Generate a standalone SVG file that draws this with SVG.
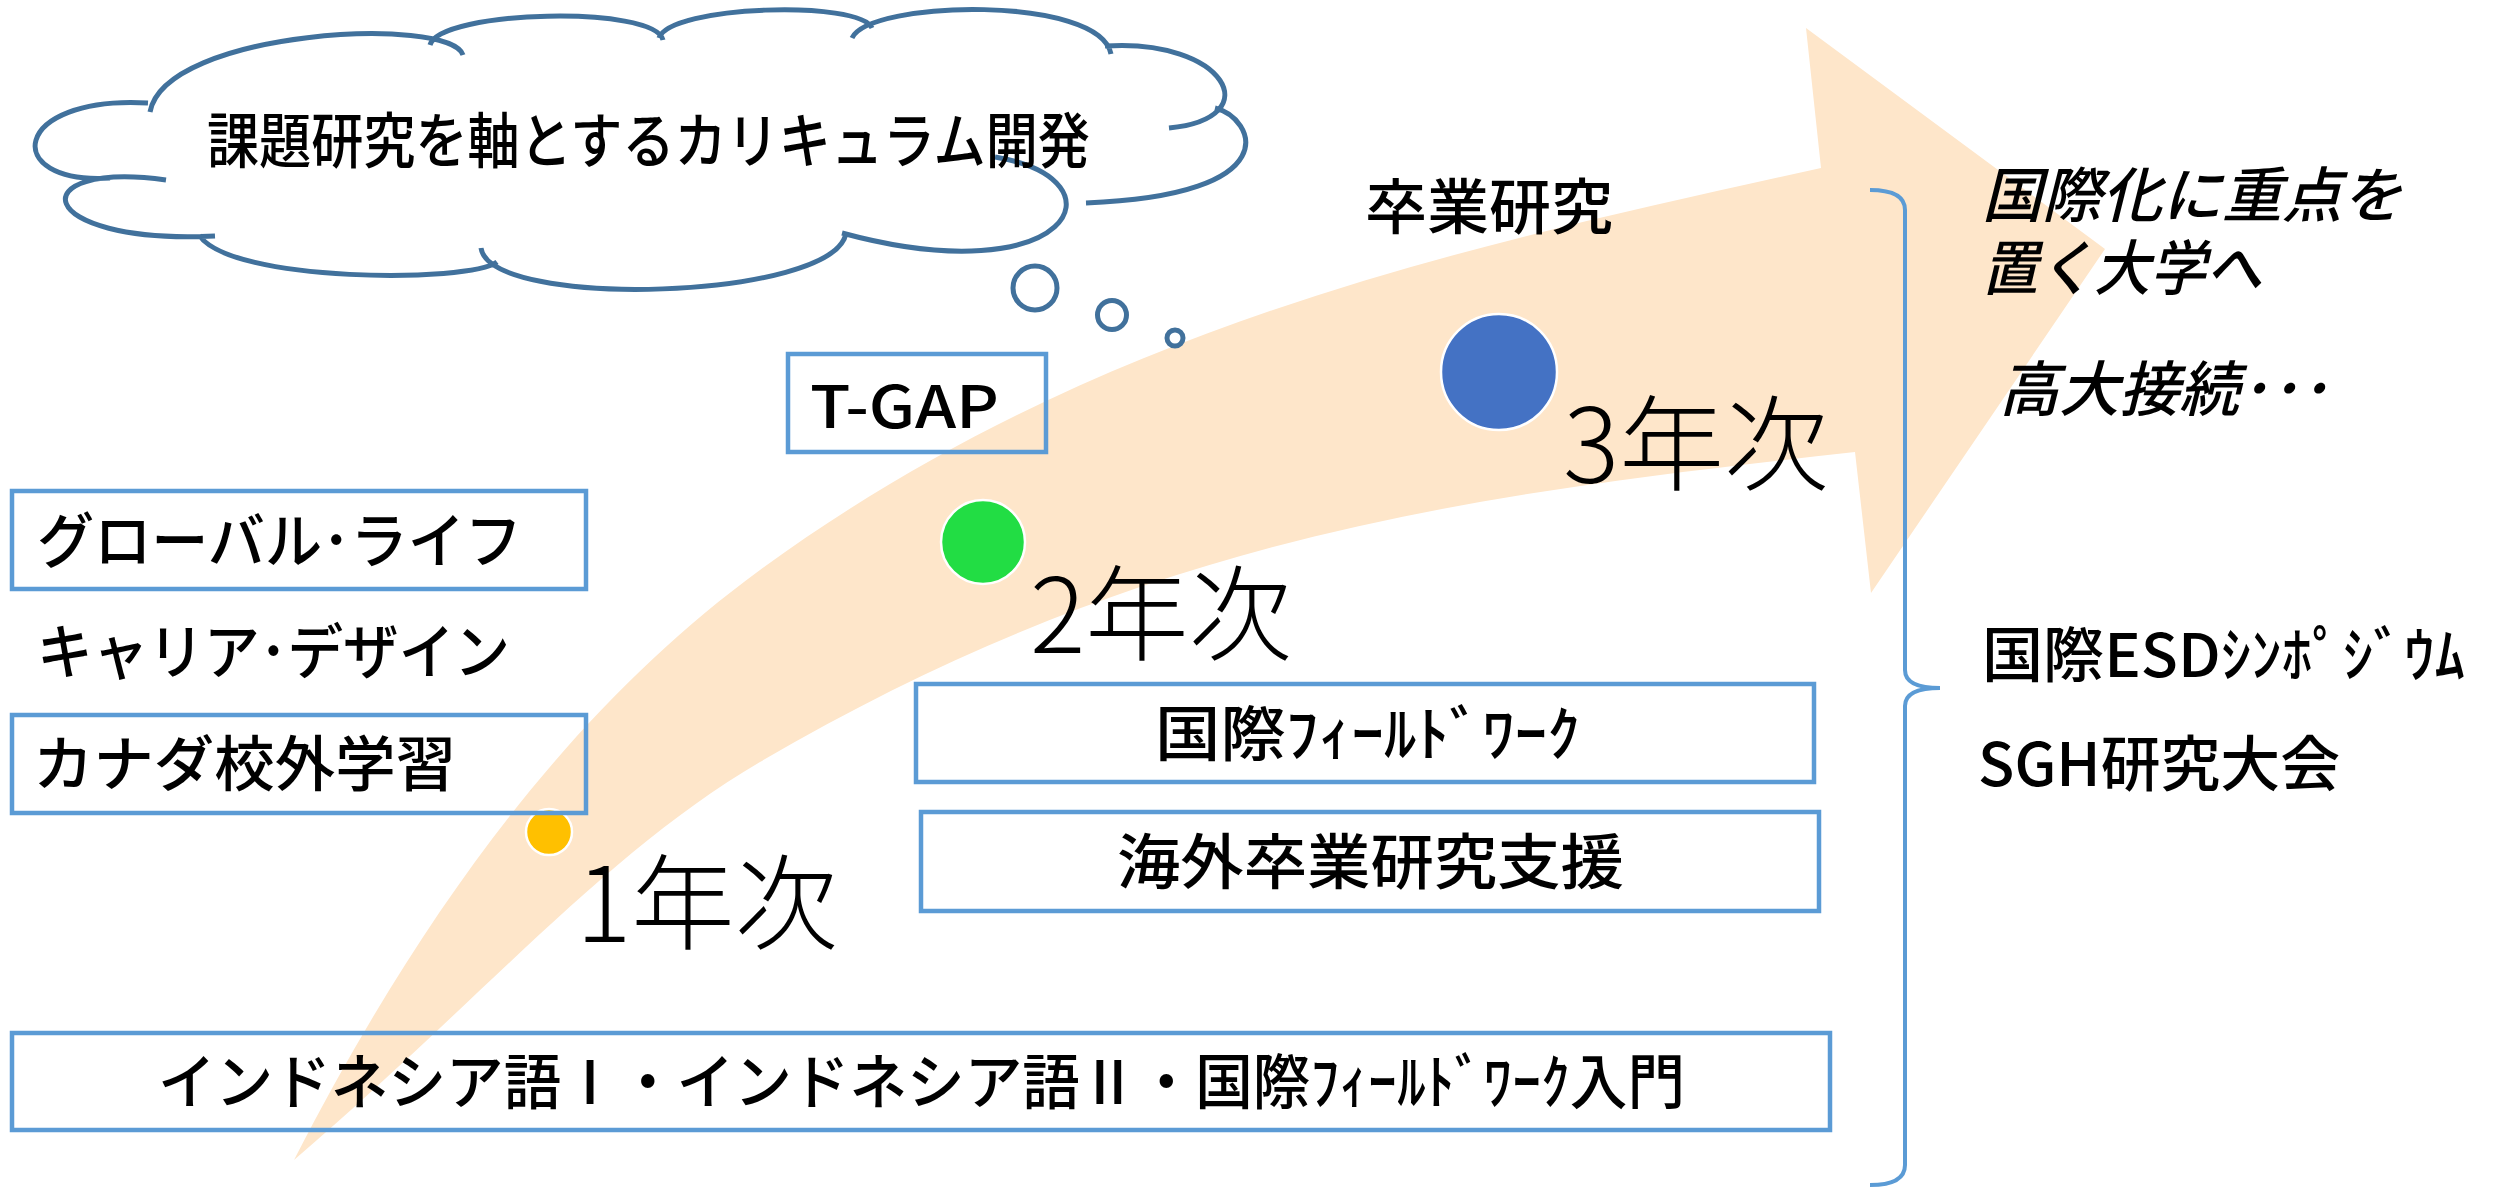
<svg xmlns="http://www.w3.org/2000/svg" width="2494" height="1188" viewBox="0 0 2494 1188">
<style>
.t{font-family:"Noto Sans CJK JP","Noto Sans",sans-serif;fill:#000;font-size:60px;font-weight:500}
.yr{font-family:"Noto Sans CJK JP","Noto Sans",sans-serif;fill:#000;font-size:104px;font-weight:300}
.it{font-style:italic}
.box{fill:none;stroke:#5B9BD5;stroke-width:4.5}
.cl{fill:none;stroke:#41719C;stroke-width:5}
.dot{stroke:#fff;stroke-width:2.5}
</style>
<rect width="2494" height="1188" fill="#fff"/>
<g id="arrow">
<path d="M294,1160 C431,893 582,700 760,570 C1099,322 1479,244 1821,168 L1806,28 L2105,249 L1871,593 L1855,452 C1477,494 1148,534 760,762 C605,853 484,997 294,1160 Z" fill="#FEE6CA"/>
</g>
<g id="cloud">
<path class="cl" d="M110,178 C0,185 10,95 148,103
M150,112 C165,30 450,15 463,55
M430,45 C440,10 655,5 663,40
M659,38 C670,5 860,0 872,28
M852,38 C870,0 1100,-5 1111,54
M1105,46 C1225,38 1270,118 1169,128
M1215,108 C1255,118 1290,195 1086,203
M995,157 C1130,180 1070,295 842,233
M846,233 C835,300 490,310 481,248
M497,262 C470,283 230,283 199,235
M215,236 C30,245 20,160 166,180"/>
<text class="t" x="207" y="163" textLength="883" lengthAdjust="spacingAndGlyphs">課題研究を軸とするカリキュラム開発</text>
</g>
<g id="thought">
<circle class="cl" cx="1035" cy="288" r="22"/>
<circle class="cl" cx="1112" cy="315" r="14.5"/>
<circle class="cl" cx="1175" cy="338" r="8"/>
</g>
<g id="dots">
<circle class="dot" cx="549" cy="832" r="23" fill="#FFC000"/>
<circle class="dot" cx="983" cy="542" r="42" fill="#22DD44"/>
<circle class="dot" cx="1499" cy="372" r="58" fill="#4472C4"/>
</g>
<g id="n-tgap">
<rect class="box" x="788" y="354" width="258" height="98"/>
<text class="t" x="810" y="428" style="font-size:58px" textLength="189" lengthAdjust="spacingAndGlyphs">T-GAP</text>
</g>
<g id="n-global">
<rect class="box" x="12" y="491" width="574" height="98"/>
<text class="t" x="37" y="563" textLength="485" lengthAdjust="spacingAndGlyphs">グローバル･ライフ</text>
</g>
<g id="n-career">
<text class="t" x="37" y="674" textLength="473" lengthAdjust="spacingAndGlyphs">キャリア･デザイン</text>
</g>
<g id="n-canada">
<rect class="box" x="12" y="715" width="574" height="98"/>
<text class="t" x="33" y="786" textLength="423" lengthAdjust="spacingAndGlyphs">カナダ校外学習</text>
</g>
<g id="n-y1"><text class="yr" x="576" y="942" textLength="262" lengthAdjust="spacingAndGlyphs">1年次</text></g>
<g id="n-y2"><text class="yr" x="1030" y="653" textLength="262" lengthAdjust="spacingAndGlyphs">2年次</text></g>
<g id="n-y3"><text class="yr" x="1563" y="483" textLength="266" lengthAdjust="spacingAndGlyphs">3年次</text></g>
<g id="n-sotsu"><text class="t" x="1365" y="229" textLength="248" lengthAdjust="spacingAndGlyphs">卒業研究</text></g>
<g id="n-ifw">
<rect class="box" x="916" y="684" width="898" height="98"/>
<text class="t" x="1155" y="756" textLength="425" lengthAdjust="spacingAndGlyphs">国際ﾌｨｰﾙﾄﾞﾜｰｸ</text>
</g>
<g id="n-kaigai">
<rect class="box" x="921" y="812" width="898" height="99"/>
<text class="t" x="1117" y="884" textLength="507" lengthAdjust="spacingAndGlyphs">海外卒業研究支援</text>
</g>
<g id="n-bottom">
<rect class="box" x="12" y="1033" width="1818" height="97"/>
<text class="t" x="158" y="1104" textLength="1527" lengthAdjust="spacingAndGlyphs">インドネシア語Ⅰ・インドネシア語Ⅱ・国際ﾌｨｰﾙﾄﾞﾜｰｸ入門</text>
</g>
<g id="connectors">
<path d="M1870,190 Q1905,190 1905,210 L1905,670 Q1905,688 1940,688 Q1905,688 1905,706 L1905,1165 Q1905,1185 1870,1185" fill="none" stroke="#5B9BD5" stroke-width="4"/>
</g>
<g id="n-right">
<text class="t it" x="1982" y="217" textLength="420" lengthAdjust="spacingAndGlyphs">国際化に重点を</text>
<text class="t it" x="1982" y="290" textLength="280" lengthAdjust="spacingAndGlyphs">置く大学へ</text>
<text class="t it" x="1999" y="411" textLength="330" lengthAdjust="spacingAndGlyphs">高大接続･･･</text>
<text class="t" x="1982" y="677" textLength="483" lengthAdjust="spacingAndGlyphs">国際ESDｼﾝﾎﾟｼﾞｳﾑ</text>
<text class="t" x="1978" y="786" textLength="362" lengthAdjust="spacingAndGlyphs">SGH研究大会</text>
</g>
</svg>
